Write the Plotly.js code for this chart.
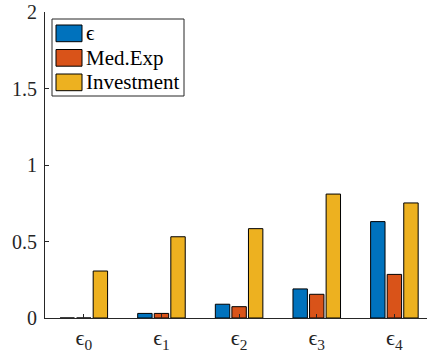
<!DOCTYPE html>
<html>
<head>
<meta charset="utf-8">
<script src="https://cdn.plot.ly/plotly-3.0.1.min.js"></script>
<style>
html,body{margin:0;padding:0;background:#fff;}
#chart{width:427px;height:358px;}
</style>
</head>
<body>
<div id="chart"></div>
<script>
const categories = ["ϵ<sub>0</sub>", "ϵ<sub>1</sub>", "ϵ<sub>2</sub>", "ϵ<sub>3</sub>", "ϵ<sub>4</sub>"];
const seriesNames = ["ϵ", "Med.Exp", "Investment"];
const epsilonVals = [0.0, 0.03, 0.09, 0.19, 0.63];
const medExpVals = [0.0, 0.03, 0.074, 0.155, 0.285];
const investmentVals = [0.307, 0.531, 0.584, 0.81, 0.752];
const colors = ["#0072BD", "#D95319", "#EDB120"];
const yTickVals = [0, 0.5, 1, 1.5, 2];
const yTickText = ["0", "0.5", "1", "1.5", "2"];

const FAM = "Times New Roman, Liberation Serif, DejaVu Serif, serif";
const W = 427, H = 358, ML = 45, MT = 12, MB = 40;
const PW = W - ML, PH = H - MT - MB;
function px(x) { return (x - ML) / PW; }
function py(y) { return (H - MB - y) / PH; }

const allVals = [epsilonVals, medExpVals, investmentVals];
const traces = allVals.map(function (vals, i) {
  return {
    type: "bar",
    x: categories,
    y: vals,
    name: seriesNames[i],
    marker: {color: colors[i], line: {color: "#000000", width: 1}}
  };
});

// MATLAB-style legend: box + swatches + text annotations
const shapes = [{
  type: "rect", xref: "paper", yref: "paper",
  x0: px(52), x1: px(184), y0: py(96), y1: py(19),
  fillcolor: "#ffffff", line: {color: "#262626", width: 1}, layer: "above"
}];
const annotations = [];
const itemTop = [25, 49.5, 74];
seriesNames.forEach(function (name, i) {
  shapes.push({
    type: "rect", xref: "paper", yref: "paper",
    x0: px(56), x1: px(82), y0: py(itemTop[i] + 16.7), y1: py(itemTop[i]),
    fillcolor: colors[i], line: {color: "#000000", width: 1}, layer: "above"
  });
  annotations.push({
    xref: "paper", yref: "paper",
    x: px(84), y: py(itemTop[i] + 8.3),
    xanchor: "left", yanchor: "middle",
    text: name, showarrow: false,
    font: {family: FAM, size: 21, color: "#000000"}
  });
});

const layout = {
  width: W,
  height: H,
  margin: {l: ML, r: 0, t: MT, b: MB},
  paper_bgcolor: "#ffffff",
  plot_bgcolor: "#ffffff",
  barmode: "group",
  bargap: 0.36,
  bargroupgap: 0.13,
  showlegend: false,
  font: {family: FAM, size: 20, color: "#262626"},
  xaxis: {
    type: "category",
    range: [-0.5, 4.42],
    showline: true,
    linecolor: "#262626",
    ticks: "inside",
    ticklen: 4,
    tickcolor: "#262626",
    showgrid: false,
    zeroline: false,
    tickfont: {family: FAM, size: 22, color: "#262626"}
  },
  yaxis: {
    range: [0, 2],
    tickvals: yTickVals,
    ticktext: yTickText,
    showline: true,
    linecolor: "#262626",
    ticks: "inside",
    ticklen: 4,
    tickcolor: "#262626",
    ticklabelstandoff: 3,
    showgrid: false,
    zeroline: false,
    tickfont: {family: FAM, size: 20, color: "#262626"}
  },
  shapes: shapes,
  annotations: annotations
};

function draw() {
  Plotly.newPlot("chart", traces, layout, {staticPlot: true}).then(function (gd) {
    gd.querySelectorAll("text").forEach(function (t) {
      t.style.fontFamily = "'Times New Roman', 'Liberation Serif', 'DejaVu Serif', serif";
    });
  });
}
if (document.fonts && document.fonts.ready) {
  document.fonts.ready.then(draw, draw);
} else {
  draw();
}
</script>
</body>
</html>
